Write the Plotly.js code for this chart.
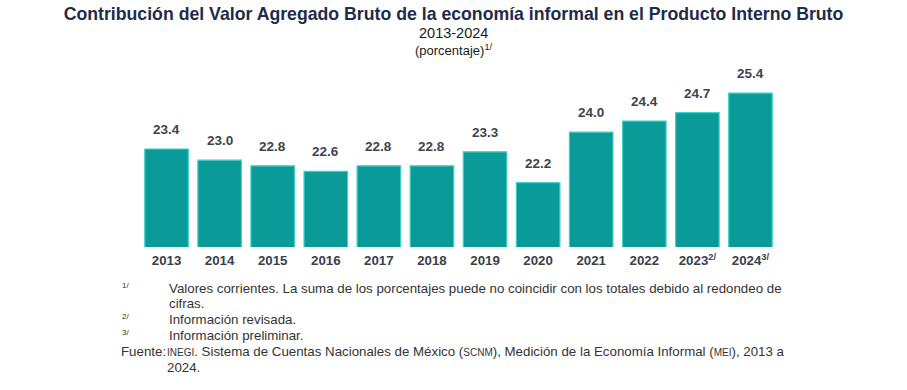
<!DOCTYPE html>
<html>
<head>
<meta charset="utf-8">
<script src="https://cdn.plot.ly/plotly-3.0.1.min.js"></script>
<style>html,body{margin:0;padding:0;background:#fff;}#chart{width:907px;height:390px;}</style>
</head>
<body>
<div id="chart"></div>
<script>
const years = ["2013","2014","2015","2016","2017","2018","2019","2020","2021","2022","2023","2024"];
const tickLabels = ["2013","2014","2015","2016","2017","2018","2019","2020","2021","2022","2023<sup>2/</sup>","2024<sup>3/</sup>"];
const values = [23.4, 23.0, 22.8, 22.6, 22.8, 22.8, 23.3, 22.2, 24.0, 24.4, 24.7, 25.4];
const footNums = ["1/", "2/", "3/"];
const footLines = [
  "Valores corrientes. La suma de los porcentajes puede no coincidir con los totales debido al redondeo de",
  "cifras.",
  "Información revisada.",
  "Información preliminar."
];
const sourceLabel = "Fuente:";
const sourceLines = [
  "<span style='font-size:10px'>INEGI</span>. Sistema de Cuentas Nacionales de México (<span style='font-size:10px'>SCNM</span>), Medición de la Economía Informal (<span style='font-size:10px'>MEI</span>), 2013 a",
  "2024."
];

const W = 907, H = 390, L = 140, R = 130, T = 60, B = 143;
const px = p => (p - L) / (W - L - R);
const py = p => (H - B - p) / (H - T - B);
const sans = "Liberation Sans, Arial, sans-serif";
const noteFont = {family: sans, size: 13.3, color: "#333"};

const annotations = [];
values.forEach((v, i) => {
  annotations.push({
    x: i, y: v, xref: "x", yref: "y", text: "<b>" + v.toFixed(1) + "</b>",
    showarrow: false, yanchor: "bottom", yshift: 10,
    font: {family: sans, size: 13.5, color: "#3e434d"}
  });
});
annotations.push({xref: "paper", yref: "paper", x: px(453.5), y: py(33), text: "2013-2024",
  showarrow: false, xanchor: "center", yanchor: "middle", font: {family: sans, size: 14.5, color: "#1a1a1a"}});
annotations.push({xref: "paper", yref: "paper", x: px(453.5), y: py(50), text: "(porcentaje)<sup>1/</sup>",
  showarrow: false, xanchor: "center", yanchor: "middle", font: {family: sans, size: 13, color: "#1a1a1a"}});
const numY = [285, 316, 332];
footNums.forEach((n, i) => {
  annotations.push({xref: "paper", yref: "paper", x: px(120), y: py(numY[i]), text: n,
    showarrow: false, xanchor: "left", yanchor: "middle", font: {family: sans, size: 8, color: "#333"}});
});
const lineY = [288, 303, 319, 335];
footLines.forEach((t, i) => {
  annotations.push({xref: "paper", yref: "paper", x: px(167), y: py(lineY[i]), text: t,
    showarrow: false, xanchor: "left", yanchor: "middle", font: noteFont});
});
annotations.push({xref: "paper", yref: "paper", x: px(119), y: py(351), text: sourceLabel,
  showarrow: false, xanchor: "left", yanchor: "middle", font: noteFont});
const srcY = [351, 367];
sourceLines.forEach((t, i) => {
  annotations.push({xref: "paper", yref: "paper", x: px(165), y: py(srcY[i]), text: t,
    showarrow: false, xanchor: "left", yanchor: "middle", font: noteFont});
});

const data = [{
  type: "bar", x: years, y: values,
  marker: {color: "#0a9a98", line: {color: "#3fd0c6", width: 1.2}},
  hoverinfo: "none"
}];

const layout = {
  width: W, height: H,
  margin: {l: L, r: R, t: T, b: B},
  paper_bgcolor: "#fff", plot_bgcolor: "#fff",
  bargap: 0.18,
  showlegend: false,
  title: {text: "<b>Contribución del Valor Agregado Bruto de la economía informal en el Producto Interno Bruto</b>",
    xref: "container", x: 0.5, xanchor: "center", yref: "container", y: 1 - 14 / H, yanchor: "middle",
    font: {family: sans, size: 17.7, color: "#1f2b49"}},
  xaxis: {type: "category", range: [-0.5, 11.5], tickvals: years, ticktext: tickLabels, showgrid: false, zeroline: false,
    showline: false, ticks: "", tickfont: {family: sans, size: 13.3, color: "#3b404a", weight: "bold"},
    ticklabelstandoff: 4},
  yaxis: {range: [19.9, 26.58], visible: false, showgrid: false, zeroline: false},
  annotations: annotations
};
Plotly.newPlot("chart", data, layout, {displayModeBar: false, staticPlot: true});
</script>
</body>
</html>
